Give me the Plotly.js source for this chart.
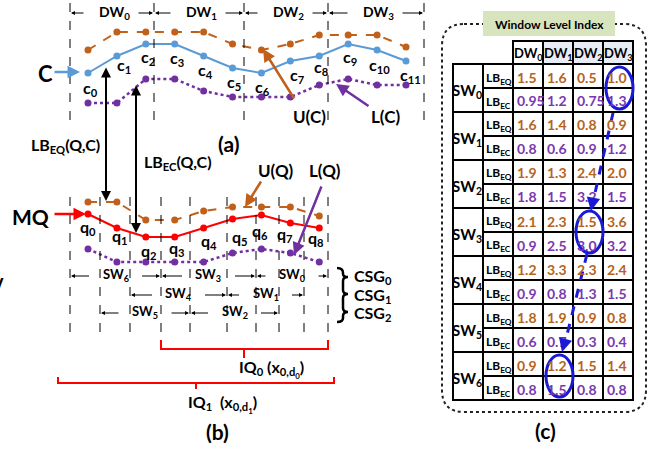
<!DOCTYPE html>
<html><head><meta charset="utf-8">
<script src="https://cdn.plot.ly/plotly-3.0.1.min.js"></script>
<style>html,body{margin:0;padding:0;background:#fff}#g{width:654px;height:451px}</style>
</head><body><div id="g"></div>
<script>
// ---------- data ----------
const C  = [4.7,6.4,7.6,7.6,6.4,5.2,4.7,5.9,6.4,7.6,7.0,5.9];
const UC = [7.0,8.8,8.8,8.8,8.8,7.6,7.0,7.6,8.5,8.5,8.5,7.3];
const LC = [1.7,1.7,4.1,4.1,2.9,2.3,2.3,2.3,3.5,4.1,3.5,3.5];
const MQ = [5.6,4.2,3.3,3.3,4.2,5.1,5.5,4.7,4.2];
const UQ = [6.8,6.8,5.0,5.0,5.9,6.3,6.3,6.3,5.4];
const LQ = [2.1,0.8,0.8,0.8,0.8,1.7,2.1,1.7,0.8];
const dwNames = ['DW<sub>0</sub>','DW<sub>1</sub>','DW<sub>2</sub>','DW<sub>3</sub>'];
const swNames = ['SW<sub>0</sub>','SW<sub>1</sub>','SW<sub>2</sub>','SW<sub>3</sub>','SW<sub>4</sub>','SW<sub>5</sub>','SW<sub>6</sub>'];
const lbEQ = [[1.5,1.6,0.5,1.0],[1.6,1.4,0.8,0.9],[1.9,1.3,2.4,2.0],[2.1,2.3,1.5,3.6],[1.2,3.3,2.3,2.4],[1.8,1.9,0.9,0.8],[0.9,1.2,1.5,1.4]];
const lbEC = [['0.95','1.2','0.75','1.3'],['0.8','0.6','0.9','1.2'],['1.8','1.5','3.2','1.5'],['0.9','2.5','3.0','3.2'],['0.9','0.8','1.3','1.5'],['0.6','0.7','0.3','0.4'],['0.8','1.5','0.8','0.8']];

// ---------- helpers ----------
const W=654,H=451;
const X=x=>x/W, Y=y=>1-y/H;
const FF='Lato, "Open Sans", sans-serif';
const BLUE='#5b9bd5', BROWN='#c0601a', PURP='#7030a0', RED='#ff0000', EQC='#b8621b', ECC='#7a38b0', DB='#1a1ad6';
const ann=[], shp=[];
function T(x,y,text,size,opt){ann.push(Object.assign({xref:'paper',yref:'paper',x:X(x),y:Y(y),text:text,showarrow:false,
  xanchor:'center',yanchor:'middle',font:{family:FF,size:size,color:'#000',weight:700}},opt||{}));}
function A(x1,y1,x2,y2,color,w,both,hs){ann.push({xref:'paper',yref:'paper',x:X(x2),y:Y(y2),ax:x1-x2,ay:y1-y2,
  text:'',showarrow:true,arrowhead:2,arrowsize:hs||1,arrowwidth:w,arrowcolor:color,
  arrowside:both?'end+start':'end',startarrowhead:2,startarrowsize:hs||1});}
function L(x1,y1,x2,y2,color,w,dash){shp.push({type:'line',xref:'paper',yref:'paper',x0:X(x1),y0:Y(y1),x1:X(x2),y1:Y(y2),
  line:{color:color,width:w,dash:dash||'solid'}});}
function R(x0,y0,x1,y1,fill,lw,lc){shp.push({type:'rect',xref:'paper',yref:'paper',x0:X(x0),y0:Y(y0),x1:X(x1),y1:Y(y1),
  fillcolor:fill||'rgba(0,0,0,0)',line:{width:lw===undefined?2:lw,color:lc||'#000'}});}
function P(cmds,color,w,dash){
  let s='';cmds.forEach(c=>{s+=c[0];for(let i=1;i<c.length;i+=2){s+=X(c[i])+','+Y(c[i+1])+' ';}});
  shp.push({type:'path',xref:'paper',yref:'paper',path:s,line:{color:color,width:w,dash:dash||'solid'}});}

// ---------- traces ----------
const idx=n=>Array.from({length:n},(_,i)=>i);
const tr=(y,color,dash,yax,w)=>({x:idx(y.length),y:y,yaxis:yax,type:'scatter',mode:'lines+markers',
  line:{color:color,width:w||2,dash:dash},marker:{color:color,size:7},hoverinfo:'skip'});
const data=[tr(UC,BROWN,'dash','y'),tr(LC,PURP,'dot','y',2.5),tr(C,BLUE,'solid','y'),
            tr(UQ,BROWN,'dash','y2'),tr(LQ,PURP,'dot','y2',2.5),tr(MQ,RED,'solid','y2')];

// ---------- panel (a) ----------
const dwB=[70,154,244,328,424];
dwB.forEach(x=>L(x,3,x,127,'#000',1,'dash'));
for(let i=0;i<4;i++){const c=(dwB[i]+dwB[i+1])/2+2;T(c,13,dwNames[i],14);
  A(c-29,13,dwB[i]+1,13,'#000',1,false,0.8);A(c+23,13,dwB[i+1]-1,13,'#000',1,false,0.8);}
const cOff=[[2,15],[7,9],[2,13],[2,14],[2,14],[1,14],[1,14],[7,14],[2,11],[2,13],[2,15],[4,14]];
C.forEach((v,i)=>ann.push({xref:'x',yref:'y',x:i,y:v,xshift:cOff[i][0],yshift:-cOff[i][1],text:'c<sub>'+i+'</sub>',
  showarrow:false,font:{family:FF,size:16,color:'#000',weight:700}}));
T(45,73,'C',22);A(53,72,80,72,BLUE,2.5);
T(309,117,'U(C)',17);A(295,100,263,49,BROWN,2.5);
T(385,117,'L(C)',17);A(370,107,336,84,PURP,2.5);
A(106,66,106,201,'#000',2,true);A(136,84,136,233,'#000',2,true);
T(65,145,'LB<sub>EQ</sub>(Q,C)',16);T(178,163,'LB<sub>EC</sub>(Q,C)',16);
T(228,143,'(a)',21);

// ---------- panel (b) ----------
[70,100,130,161,190,227,256,279,304,328].forEach(x=>L(x,197,x,340,'#000',1,'dash'));
const qOff=[[0,13],[3,8],[3,14],[2,11],[5,13],[7,18],[-1,16],[-5,11],[-3,10]];
MQ.forEach((v,i)=>ann.push({xref:'x',yref:'y2',x:i,y:v,xshift:qOff[i][0],yshift:-qOff[i][1],text:'q<sub>'+i+'</sub>',
  showarrow:false,font:{family:FF,size:16,color:'#000',weight:700}}));
T(30,216,'MQ',21);A(53,214,86,214,RED,2.5);
T(275,170,'U(Q)',17);A(262,180,245,207,BROWN,2.5);
T(325,170,'L(Q)',17);A(322,185,294,255,PURP,2.5);
const swRows=[[[6,70,161],[3,161,256],[0,256,328]],[[4,130,227],[1,227,304]],[[5,100,190],[2,190,279]]];
const swY=[275,294,312];
swRows.forEach((row,k)=>row.forEach(s=>{const c=(s[1]+s[2])/2;T(c,swY[k],swNames[s[0]],13);
  A(c-25,swY[k]+1,s[1]+1,swY[k]+1,'#000',1,false,0.8);A(c+25,swY[k]+1,s[2]-1,swY[k]+1,'#000',1,false,0.8);}));
P([['M',337,268],['Q',343,268,343,273],['L',343,274],['Q',343,277,348,277],['Q',343,277,343,281],['L',343,290],
   ['Q',343,294,348,294],['Q',343,294,343,298],['L',343,308],['Q',343,312,348,312],['Q',343,312,343,316],['L',343,318],
   ['Q',343,322,337,322]],'#000',2.5);
['CSG<sub>0</sub>','CSG<sub>1</sub>','CSG<sub>2</sub>'].forEach((t,k)=>T(352,swY[k]+1,t,16,{xanchor:'left'}));
P([['M',161,340],['L',161,349],['L',328,349],['L',328,340],['M',244,349],['L',244,358]],RED,2);
P([['M',58,377],['L',58,383],['L',334,383],['L',334,377],['M',196,383],['L',196,389]],RED,2);
T(271,369,'IQ<sub>0</sub> (x<sub>0,d<sub>0</sub></sub>)',16);
T(222,404,'IQ<sub>1</sub>  (x<sub>0,d<sub>1</sub></sub>)',16);
T(217,431,'(b)',21);
T(-2,281,'v',20);

// ---------- panel (c) ----------
const r=22,bx0=442,by0=24,bx1=646,by1=412;
P([['M',bx0+r,by0],['L',bx1-r,by0],['Q',bx1,by0,bx1,by0+r],['L',bx1,by1-r],['Q',bx1,by1,bx1-r,by1],['L',bx0+r,by1],
   ['Q',bx0,by1,bx0,by1-r],['L',bx0,by0+r],['Q',bx0,by0,bx0+r,by0],['Z']],'#222',2,'dot');
R(483,11,615,36,'#d7e4bd',0);
T(549,24,'Window Level Index',12);
const tx=[453,483,513,543,573,603,633],hTop=41,rTop=64,rH=24;
dwNames.forEach((d,j)=>{R(tx[j+2],hTop,tx[j+3],rTop,j?'#e8ecf4':'#fff');T((tx[j+2]+tx[j+3])/2,(hTop+rTop)/2+1,d,13);});
swNames.forEach((s,i)=>{
  const y0=rTop+2*i*rH;R(tx[0],y0,tx[1],y0+2*rH);T(467,y0+rH+3,s,15);
  [[lbEQ[i].map(v=>v.toFixed(1)),'LB<sub>EQ</sub>',EQC],[lbEC[i],'LB<sub>EC</sub>',ECC]].forEach((row,k)=>{
    const ry=y0+k*rH;R(tx[1],ry,tx[2],ry+rH);T(tx[1]+1,ry+rH/2+2,row[1],12,{xanchor:'left'});
    row[0].forEach((v,j)=>{R(tx[j+2],ry,tx[j+3],ry+rH);T(tx[j+2]+2,ry+rH/2+1,v,14,{xanchor:'left',font:{family:FF,size:14,color:row[2],weight:700}});});
  });
});
function E(col,sw){const x0=tx[col+2],x1=tx[col+3],y0=rTop+2*sw*rH+3,y1=rTop+2*sw*rH+2*rH-3;
  shp.push({type:'circle',xref:'paper',yref:'paper',x0:X(x0+3),x1:X(x1),y0:Y(y0),y1:Y(y1),line:{color:DB,width:3}});}
E(3,0);E(2,3);E(1,6);
L(613,113,593,202,DB,3,'dash');A(593,200,591,211,DB,3,false,0.9);
L(587,254,565,343,DB,3,'dash');A(565,341,562,352,DB,3,false,0.9);
T(545,430,'(c)',21);

const k=318/11;
const layout={width:W,height:H,margin:{l:0,r:0,t:0,b:0},showlegend:false,paper_bgcolor:'#fff',plot_bgcolor:'rgba(0,0,0,0)',
  xaxis:{range:[-88/k,(W-88)/k],visible:false,fixedrange:true},
  yaxis:{range:[(120-H)/10,12],visible:false,fixedrange:true},
  yaxis2:{range:[(270-H)/10,27],visible:false,overlaying:'y',fixedrange:true},
  annotations:ann,shapes:shp};
Plotly.newPlot('g',data,layout,{staticPlot:true,displayModeBar:false});
</script></body></html>
